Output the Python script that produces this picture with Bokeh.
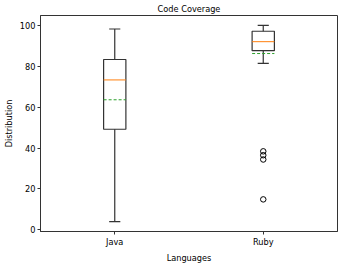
from bokeh.plotting import figure
from bokeh.models import FixedTicker, Range1d
from bokeh.embed import file_html
from bokeh.resources import INLINE

# Data
languages = ["Java", "Ruby"]
whisker_low = [4.0, 81.4]
q1 = [49.2, 87.6]
median = [73.3, 92.0]
mean = [63.6, 86.2]
q3 = [83.3, 97.1]
whisker_high = [98.2, 100.0]
outlier_lang = ["Ruby", "Ruby", "Ruby", "Ruby"]
outlier_vals = [38.4, 36.5, 34.4, 14.9]
y_ticks = [0, 20, 40, 60, 80, 100]

pos = [i + 1 for i in range(len(languages))]
box_w = 0.15
cap_w = 0.075
opos = [languages.index(l) + 1 for l in outlier_lang]

FONT = "DejaVu Sans"
FS = "8.2px"

p = figure(frame_width=297, frame_height=216, output_backend="svg", toolbar_location=None,
           x_range=Range1d(0.5, 2.5), y_range=Range1d(-0.8, 104.8),
           title="Code Coverage", min_border_left=0, min_border_right=2,
           min_border_top=0, min_border_bottom=0)

p.title.text_font = FONT
p.title.text_font_size = FS
p.title.text_font_style = "normal"
p.title.align = "center"
p.title.standoff = 3
p.title.text_color = "black"

p.xgrid.visible = False
p.ygrid.visible = False
p.outline_line_color = "#333333"
p.outline_line_width = 1
p.background_fill_color = "white"
p.border_fill_color = "white"

p.xaxis.ticker = FixedTicker(ticks=pos)
p.xaxis.major_label_overrides = {pp: l for pp, l in zip(pos, languages)}
p.yaxis.ticker = FixedTicker(ticks=y_ticks)
for ax in (p.xaxis[0], p.yaxis[0]):
    ax.major_tick_in = 0
    ax.major_tick_out = 3
    ax.minor_tick_line_color = None
    ax.major_label_text_font = FONT
    ax.major_label_text_font_size = FS
    ax.major_label_text_color = "black"
    ax.axis_label_text_font = FONT
    ax.axis_label_text_font_size = FS
    ax.axis_label_text_font_style = "normal"
    ax.axis_label_text_color = "black"
    ax.axis_line_color = "#333333"
    ax.major_tick_line_color = "#333333"
    ax.major_label_standoff = 2
    ax.axis_label_standoff = 3
p.xaxis.axis_label = "Languages"
p.yaxis.axis_label = "Distribution"

lc = "#333333"
# boxes
p.quad(left=[x - box_w / 2 for x in pos], right=[x + box_w / 2 for x in pos],
       bottom=q1, top=q3, fill_color="white", line_color=lc, line_width=1.2)
# whiskers
p.segment(x0=pos, y0=q3, x1=pos, y1=whisker_high, line_color=lc, line_width=1.2)
p.segment(x0=pos, y0=q1, x1=pos, y1=whisker_low, line_color=lc, line_width=1.2)
# caps
p.segment(x0=[x - cap_w / 2 for x in pos], y0=whisker_high,
          x1=[x + cap_w / 2 for x in pos], y1=whisker_high, line_color=lc, line_width=1.2)
p.segment(x0=[x - cap_w / 2 for x in pos], y0=whisker_low,
          x1=[x + cap_w / 2 for x in pos], y1=whisker_low, line_color=lc, line_width=1.2)
# median
p.segment(x0=[x - box_w / 2 for x in pos], y0=median,
          x1=[x + box_w / 2 for x in pos], y1=median, line_color="#ff7f0e", line_width=1)
# mean
p.segment(x0=[x - box_w / 2 for x in pos], y0=mean,
          x1=[x + box_w / 2 for x in pos], y1=mean, line_color="#2ca02c",
          line_width=1, line_dash="3 2")
# outliers
p.scatter(x=opos, y=outlier_vals, marker="circle", size=5.5, fill_color=None,
          line_color="black", line_width=1)

open("out.html", "w").write(file_html(p, INLINE))
